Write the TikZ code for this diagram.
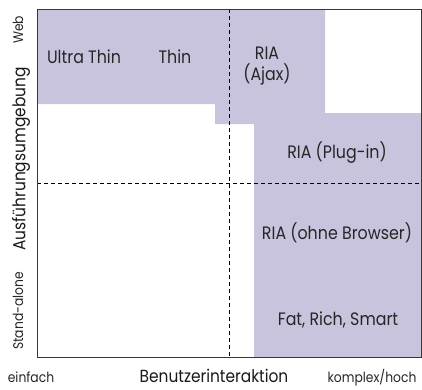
\documentclass[tikz,border=0pt]{standalone}
\usepackage{fontspec}
\setmainfont[FakeStretch=0.88]{Poppins}
\usetikzlibrary{positioning,calc}
\definecolor{riafill}{RGB}{201,196,221}
\definecolor{riaframe}{RGB}{55,55,55}
\tikzset{
  zone/.style={fill=riafill,draw=none},
  frame/.style={draw=riaframe,line width=0.9pt},
  split/.style={line width=0.7pt,dash pattern=on 4pt off 3pt},
  lbl/.style={font=\fontsize{18}{21}\selectfont,inner sep=1pt,align=center,text=black!85},
  axis/.style={font=\fontsize{17.5}{20}\selectfont,inner sep=1pt,text=black!90},
  tick/.style={font=\fontsize{14}{16}\selectfont,inner sep=1pt,text=black!85},
}

\begin{document}
\begin{tikzpicture}[x=1pt,y=-1pt]
  \useasboundingbox (0,0) rectangle (422,389);

  % corners of the chart
  \coordinate (nw) at (37,9);
  \coordinate (se) at (421,357);

  % shaded region (thin/RIA/rich)
  \fill[zone] (37,9) -- (325,9) -- (325,113) -- (421,113) -- (421,357)
    -- (254,357) -- (254,124) -- (215,124) -- (215,104) -- (37,104) -- cycle;

  % quadrant split
  \coordinate (vt) at (229,9);
  \coordinate (vb) at (229,357);
  \coordinate (hl) at (37,183);
  \coordinate (hr) at (421,183);
  \draw[split] (vt) -- (vb);
  \draw[split] (hl) -- (hr);

  \draw[frame] (nw) rectangle (se);

  % regions
  \node[lbl] (ultra) at (84,57) {Ultra Thin};
  \node[lbl] (thin) at (175,57) {Thin};
  \node[lbl] (ajax) at (267,66) {RIA\\(Ajax)};
  \node[lbl] (plugin) at (337,153) {RIA (Plug-in)};
  \node[lbl] (nobrowser) at (337,233) {RIA (ohne Browser)};
  \node[lbl] (fat) at (338,320) {Fat, Rich, Smart};

  % axes
  \node[tick,rotate=90] (web) at (18,30) {Web};
  \node[axis,rotate=90] (env) at (21,159) {Ausführungsumgebung};
  \node[tick,rotate=90] (alone) at (18,311) {Stand-alone};
  \node[tick,anchor=base] (simple) at (31,382) {einfach};
  \node[axis,anchor=base,text depth=0pt] (interact) at (214,382) {Benutzerinteraktion};
  \node[tick,anchor=base] (complex) at (372,382) {komplex/hoch};
\end{tikzpicture}
\end{document}
